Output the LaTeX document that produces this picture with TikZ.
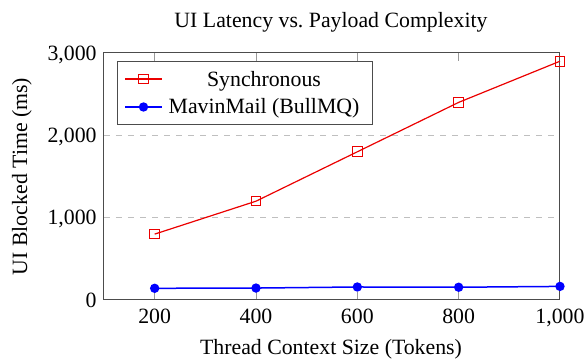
\documentclass[tikz,border=0pt]{standalone}
\usepackage{fontspec}
\setmainfont{Liberation Serif}
\begin{document}
\begin{tikzpicture}[
  axisframe/.style={draw=black!70, line width=0.5pt},
  gridline/.style={draw=black!25, dashed, line width=0.4pt},
  tickmark/.style={draw=black!40, line width=0.4pt},
  syncline/.style={draw=red!92!black, line width=0.6pt},
  queueline/.style={draw=blue, line width=0.75pt},
  sqmark/.style={draw=red!92!black, line width=0.5pt, fill=none, rectangle, minimum size=4.8pt, inner sep=0pt},
  dotmark/.style={fill=blue, circle, minimum size=4.7pt, inner sep=0pt},
  ticklabel/.style={inner sep=0pt, font=\fontsize{10.9}{13}\selectfont},
  legendbox/.style={draw=black!70, line width=0.5pt, fill=white},
]
\useasboundingbox (0,0) rectangle (292pt,181.5pt);

% data coordinates: x in tokens (100..1000), y in ms (0..3000)
\begin{scope}[shift={(26.6667pt,31.5pt)}, x=0.253333pt, y=0.0411667pt]
  % horizontal grid
  \foreach \v in {1000,2000}
    \draw[gridline] (100,\v) -- (1000,\v);
  % x ticks, bottom and top
  \foreach \t in {200,400,600,800}{
    \draw[tickmark] (\t,0) -- ++(0,4pt);
    \draw[tickmark] (\t,3000) -- ++(0,-4pt);
  }
  % frame
  \draw[axisframe] (100,0) rectangle (1000,3000);

  % tick labels
  \foreach \t/\l in {200/200,400/400,600/600,800/800,1000/{1,000}}
    \node[ticklabel, anchor=base] (xl\t) at ([yshift=-11.9pt]\t,0) {\l};
  \foreach \v/\l in {0/0,1000/{1,000},2000/{2,000},3000/{3,000}}
    \node[ticklabel, anchor=base east] (yl\v) at ([xshift=-3.5pt,yshift=-3.6pt]100,\v) {\l};

  % synchronous series
  \foreach \p/\v in {200/800,400/1200,600/1800,800/2400,1000/2900}
    \coordinate (s\p) at (\p,\v);
  \draw[syncline] (s200) -- (s400) -- (s600) -- (s800) -- (s1000);
  \foreach \p in {200,400,600,800,1000}
    \node[sqmark] (sm\p) at (s\p) {};

  % queued series
  \foreach \p/\v in {200/142,400/145,600/158,800/155,1000/165}
    \coordinate (q\p) at (\p,\v);
  \draw[queueline] (q200) -- (q400) -- (q600) -- (q800) -- (q1000);
  \foreach \p in {200,400,600,800,1000}
    \node[dotmark] (qm\p) at (q\p) {};
\end{scope}

% legend
\draw[legendbox] (58.5pt,119pt) rectangle (186pt,150.5pt);
\coordinate (la1) at (62.5pt,142pt);
\coordinate (lb1) at (81pt,142pt);
\coordinate (la2) at (62.5pt,128pt);
\coordinate (lb2) at (81pt,128pt);
\draw[syncline] (la1) -- (lb1);
\node[sqmark] (lm1) at (71.75pt,142pt) {};
\draw[queueline] (la2) -- (lb2);
\node[dotmark] (lm2) at (71.75pt,128pt) {};
\node[ticklabel, anchor=base] (lt1) at (132pt,138.3pt) {Synchronous};
\node[ticklabel, anchor=base] (lt2) at (132pt,124.5pt) {MavinMail (BullMQ)};

% title and axis labels
\node[ticklabel, anchor=base] (title) at (165.5pt,167.5pt) {UI Latency vs.\ Payload Complexity};
\node[ticklabel, anchor=base] (xlabel) at (165.5pt,4pt) {Thread Context Size (Tokens)};
\node[ticklabel, anchor=base, rotate=90] (ylabel) at (13.5pt,93.25pt) {UI Blocked Time (ms)};
\end{tikzpicture}
\end{document}
